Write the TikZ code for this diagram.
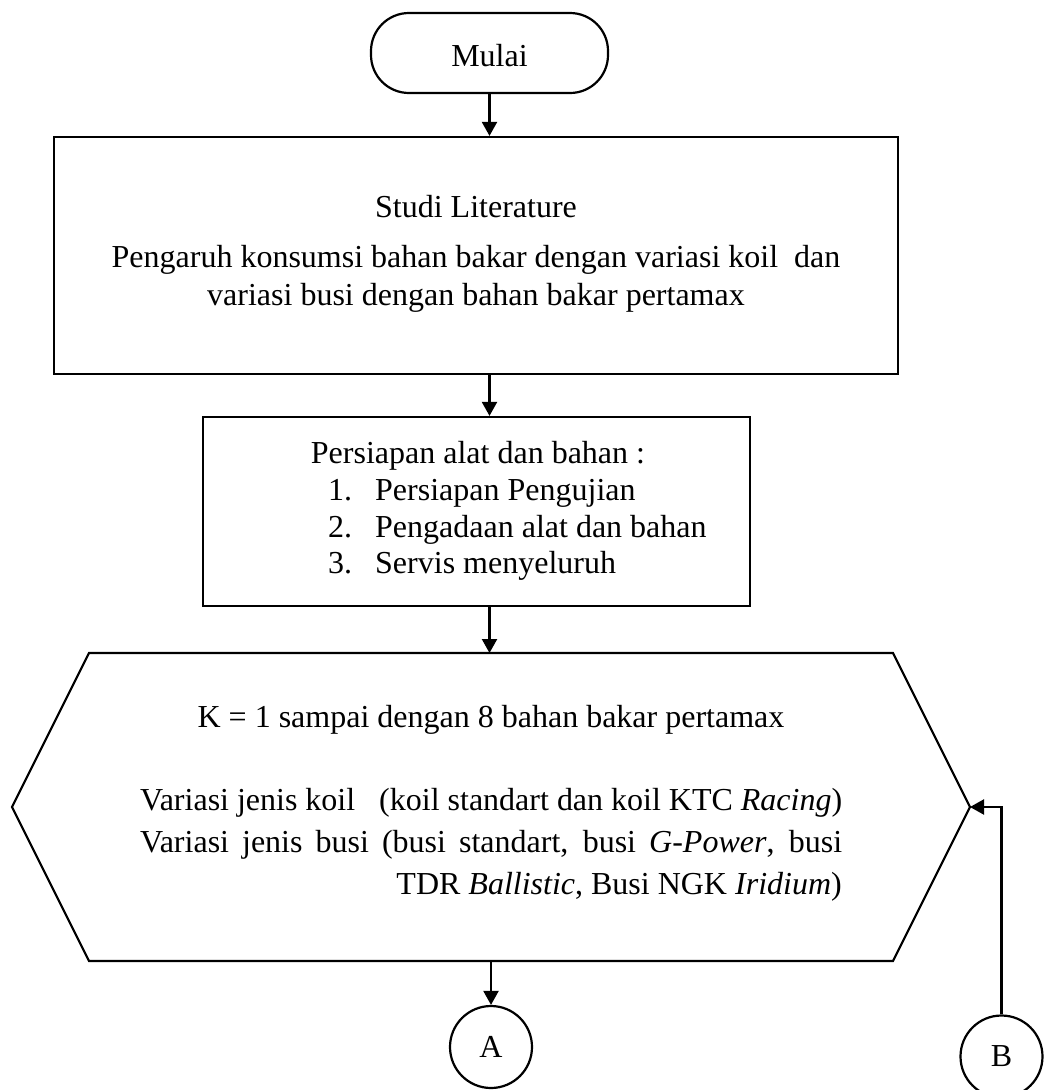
\documentclass[tikz,border=0pt]{standalone}
\usepackage{fontspec}
\setmainfont{Liberation Serif}
\usetikzlibrary{arrows.meta}
\newcommand\flowfont{\fontsize{32pt}{37pt}\selectfont}
\begin{document}
\begin{tikzpicture}[x=1pt,y=-1pt,
  outline/.style={draw, line width=2.2pt},
  terminal/.style={outline, rectangle, rounded corners=38pt,
    minimum width=237pt, minimum height=80pt, inner sep=0pt},
  procbox/.style={outline, rectangle, inner sep=0pt},
  connector/.style={outline, circle, minimum size=82pt, inner sep=0pt, font=\flowfont},
  flow/.style={line width=2.2pt, -{Triangle[length=14pt,width=15pt]}},
  txt/.style={inner sep=0pt, anchor=base, font=\flowfont},
  txtl/.style={txt, anchor=base west},
  txtr/.style={txt, anchor=base east}]
\useasboundingbox (0,0) rectangle (1044,1090);

% start terminal
\node[terminal] (start) at (489.5,53) {};
\node[txt] (startText) at (489.5,66) {Mulai};

% literature study box
\node[procbox, minimum width=844pt, minimum height=237pt] (lit) at (476,255.5) {};
\node[txt] (litTitle) at (476,217) {Studi Literature};
\node[txt] (litLineA) at (476,267) {Pengaruh konsumsi bahan bakar dengan variasi koil\ \ dan};
\node[txt] (litLineB) at (476,305) {variasi busi dengan bahan bakar pertamax};

% preparation box
\node[procbox, minimum width=547pt, minimum height=189pt] (prep) at (476.5,511.5) {};
\node[txt] (prepTitle) at (478,463) {Persiapan alat dan bahan :};
\node[txtl] (numA) at (328,500) {1.};
\node[txtl] (itemA) at (375,500) {Persiapan Pengujian};
\node[txtl] (numB) at (328,537) {2.};
\node[txtl] (itemB) at (375,537) {Pengadaan alat dan bahan};
\node[txtl] (numC) at (328,573) {3.};
\node[txtl] (itemC) at (375,573) {Servis menyeluruh};

% loop hexagon
\coordinate (hexL) at (12,807);
\coordinate (hexTL) at (89,653);
\coordinate (hexTR) at (893,653);
\coordinate (hexR) at (970,807);
\coordinate (hexBR) at (893,961);
\coordinate (hexBL) at (89,961);
\coordinate (hexT) at (489.5,653);
\coordinate (hexB) at (491,961);
\draw[outline] (hexL) -- (hexTL) -- (hexTR) -- (hexR) -- (hexBR) -- (hexBL) -- cycle;
\node[txt] (loopTitle) at (491,727) {K = 1 sampai dengan 8 bahan bakar pertamax};
\node[txtl] (loopA) at (140,810)
  {\makebox[702pt][s]{Variasi jenis koil\ \ \ (koil standart dan koil KTC \textit{Racing})}};
\node[txtl] (loopB) at (140,852)
  {\makebox[702pt][s]{Variasi jenis busi (busi standart, busi \textit{G-Power}, busi}};
\node[txtr] (loopC) at (842,894) {TDR \textit{Ballistic}, Busi NGK \textit{Iridium})};

% off-page connectors
\node[connector] (A) at (491,1047) {A};
\node[connector] (B) at (1001.5,1056.5) {B};

% flow lines
\draw[flow] (start.south) -- (lit.north -| start.south);
\draw[flow] (lit.south -| start.south) -- (prep.north -| start.south);
\draw[flow] (prep.south -| start.south) -- (hexT);
\draw[flow] (hexB) -- (A.north);
\draw[flow] (B.north) |- (hexR);
\end{tikzpicture}
\end{document}
